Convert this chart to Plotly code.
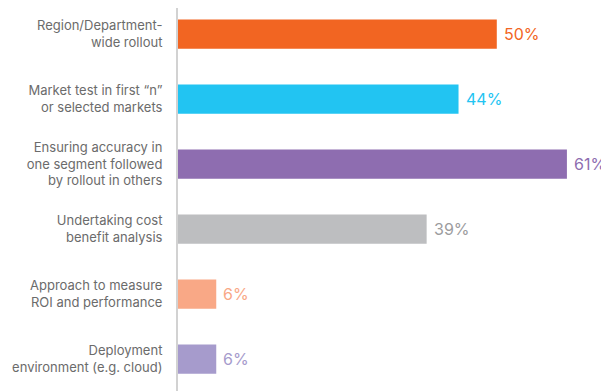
import plotly.graph_objects as go

categories = [
    "Region/Department-<br>wide rollout",
    "Market test in first “n”<br>or selected markets",
    "Ensuring accuracy in<br>one segment followed<br>by rollout in others",
    "Undertaking cost<br>benefit analysis",
    "Approach to measure<br>ROI and performance",
    "Deployment<br>environment (e.g. cloud)",
]
values = [50, 44, 61, 39, 6, 6]
bar_colors = ["#F26522", "#22C4F2", "#8E6DB0", "#BDBEC0", "#F9A886", "#A69BCC"]
text_colors = ["#F26522", "#22C4F2", "#8E6DB0", "#9C9C9E", "#F9A886", "#A69BCC"]

fig = go.Figure(go.Bar(
    x=values, y=categories, orientation="h",
    marker=dict(color=bar_colors, line=dict(width=0)),
    width=0.45, hoverinfo="skip",
))

for v, c, tc in zip(values, categories, text_colors):
    fig.add_annotation(x=v, y=c, text=f"{v}%", showarrow=False,
                       xanchor="left", xshift=5,
                       font=dict(family="Inter", size=16, color=tc))

# page body has an 8px default margin, so figure is sized to fit the window
fig.update_layout(
    width=601, height=383,
    margin=dict(l=170, r=0, t=0, b=0, autoexpand=False),
    paper_bgcolor="white", plot_bgcolor="white",
    showlegend=False,
    font=dict(family="Inter", size=13, color="#6b6b6b"),
    xaxis=dict(range=[0, 67.6], visible=False, fixedrange=True),
    yaxis=dict(range=[5.492, -0.4], showgrid=False, zeroline=False,
               automargin=False,
               showline=True, linecolor="#d2d2d2", linewidth=2,
               ticks="", ticklabelstandoff=11,
               tickfont=dict(family="Inter", size=13, color="#6b6b6b")),
)

fig.write_html("out.html")
